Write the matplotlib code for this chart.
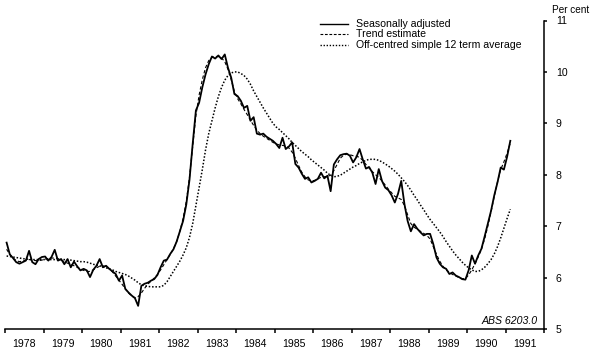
import numpy as np
import matplotlib
matplotlib.use("Agg")
import matplotlib.pyplot as plt
from matplotlib.lines import Line2D

plt.rcParams['font.family'] = ['Liberation Sans', 'DejaVu Sans']

# monthly series, Jan 1978 .. Feb 1991 (per cent)
start_year = 1978
seasonally_adjusted = (
    [6.68, 6.45, 6.38, 6.30, 6.27, 6.30, 6.33, 6.52, 6.30, 6.26, 6.36, 6.40]    # 1978
    + [6.41, 6.33, 6.40, 6.54, 6.33, 6.36, 6.26, 6.36, 6.20, 6.31, 6.22, 6.14]  # 1979
    + [6.17, 6.14, 6.01, 6.15, 6.23, 6.36, 6.20, 6.23, 6.17, 6.12, 6.07, 5.94]  # 1980
    + [6.04, 5.78, 5.71, 5.65, 5.60, 5.45, 5.84, 5.88, 5.90, 5.94, 5.97, 6.05]  # 1981
    + [6.20, 6.33, 6.35, 6.46, 6.55, 6.70, 6.90, 7.10, 7.42, 7.90, 8.60, 9.25]  # 1982
    + [9.40, 9.70, 9.95, 10.15, 10.30, 10.26, 10.32, 10.25, 10.34, 10.08, 9.89, 9.57]  # 1983
    + [9.53, 9.44, 9.30, 9.34, 9.05, 9.12, 8.80, 8.78, 8.80, 8.74, 8.70, 8.66]  # 1984
    + [8.60, 8.52, 8.72, 8.50, 8.55, 8.63, 8.21, 8.14, 8.02, 7.92, 7.95, 7.85]  # 1985
    + [7.88, 7.92, 8.04, 7.93, 7.98, 7.68, 8.20, 8.30, 8.38, 8.40, 8.41, 8.37]  # 1986
    + [8.24, 8.34, 8.50, 8.30, 8.12, 8.15, 8.04, 7.82, 8.11, 7.88, 7.75, 7.70]  # 1987
    + [7.60, 7.46, 7.63, 7.88, 7.43, 7.10, 6.90, 7.04, 6.95, 6.88, 6.82, 6.85]  # 1988
    + [6.85, 6.65, 6.39, 6.27, 6.20, 6.17, 6.07, 6.10, 6.04, 6.01, 5.97, 5.96]  # 1989
    + [6.14, 6.43, 6.27, 6.43, 6.56, 6.80, 7.05, 7.30, 7.60, 7.85, 8.14, 8.10]  # 1990
    + [8.35, 8.66]                                                              # 1991
)
trend_estimate = (
    [6.55, 6.45, 6.38, 6.33, 6.31, 6.32, 6.34, 6.35, 6.34, 6.33, 6.33, 6.34]
    + [6.36, 6.37, 6.38, 6.38, 6.37, 6.34, 6.31, 6.28, 6.26, 6.23, 6.20, 6.17]
    + [6.14, 6.12, 6.12, 6.15, 6.19, 6.22, 6.23, 6.21, 6.17, 6.11, 6.03, 5.95]
    + [5.87, 5.78, 5.70, 5.64, 5.61, 5.63, 5.70, 5.79, 5.87, 5.93, 5.99, 6.06]
    + [6.15, 6.25, 6.35, 6.45, 6.56, 6.70, 6.90, 7.15, 7.48, 7.95, 8.55, 9.15]
    + [9.55, 9.85, 10.08, 10.22, 10.28, 10.30, 10.30, 10.27, 10.20, 10.05, 9.85, 9.62]
    + [9.48, 9.38, 9.27, 9.17, 9.06, 8.96, 8.87, 8.80, 8.75, 8.71, 8.67, 8.63]
    + [8.60, 8.58, 8.57, 8.56, 8.52, 8.44, 8.32, 8.18, 8.05, 7.96, 7.90, 7.88]
    + [7.89, 7.92, 7.95, 7.96, 7.97, 7.99, 8.08, 8.20, 8.32, 8.38, 8.40, 8.39]
    + [8.37, 8.36, 8.34, 8.28, 8.20, 8.13, 8.06, 8.00, 7.95, 7.88, 7.80, 7.72]
    + [7.65, 7.58, 7.55, 7.52, 7.40, 7.22, 7.05, 6.98, 6.94, 6.90, 6.86, 6.82]
    + [6.75, 6.60, 6.45, 6.32, 6.22, 6.15, 6.10, 6.06, 6.03, 6.00, 5.98, 5.98]
    + [6.05, 6.15, 6.27, 6.40, 6.55, 6.75, 7.00, 7.28, 7.58, 7.86, 8.10, 8.25]
    + [8.42, 8.62]
)
off_centred_avg = (
    [6.42, 6.41, 6.40, 6.39, 6.38, 6.37, 6.36, 6.36, 6.35, 6.35, 6.35, 6.35]
    + [6.35, 6.35, 6.35, 6.35, 6.35, 6.35, 6.35, 6.34, 6.34, 6.33, 6.32, 6.31]
    + [6.31, 6.30, 6.28, 6.26, 6.24, 6.23, 6.21, 6.19, 6.17, 6.15, 6.12, 6.10]
    + [6.08, 6.06, 6.03, 5.99, 5.95, 5.90, 5.86, 5.84, 5.83, 5.82, 5.82, 5.82]
    + [5.82, 5.85, 5.92, 6.02, 6.12, 6.22, 6.32, 6.44, 6.58, 6.78, 7.05, 7.40]
    + [7.75, 8.10, 8.48, 8.80, 9.05, 9.30, 9.52, 9.70, 9.84, 9.93, 9.98, 10.00]
    + [10.00, 9.97, 9.93, 9.86, 9.76, 9.63, 9.52, 9.41, 9.30, 9.20, 9.10, 9.00]
    + [8.93, 8.88, 8.82, 8.76, 8.70, 8.63, 8.57, 8.51, 8.45, 8.40, 8.35, 8.29]
    + [8.24, 8.19, 8.14, 8.09, 8.03, 7.99, 7.96, 7.97, 7.99, 8.03, 8.07, 8.11]
    + [8.15, 8.18, 8.22, 8.25, 8.28, 8.30, 8.30, 8.30, 8.28, 8.25, 8.21, 8.17]
    + [8.12, 8.07, 8.01, 7.94, 7.87, 7.79, 7.70, 7.60, 7.51, 7.41, 7.32, 7.22]
    + [7.13, 7.05, 6.97, 6.89, 6.80, 6.70, 6.61, 6.52, 6.44, 6.37, 6.30, 6.24]
    + [6.19, 6.15, 6.12, 6.12, 6.15, 6.20, 6.27, 6.35, 6.46, 6.60, 6.77, 6.96]
    + [7.15, 7.33]
)
years = list(range(1978, 1992))
y_ticks = [5, 6, 7, 8, 9, 10, 11]

W, H = 597, 351
fig = plt.figure(figsize=(W / 100, H / 100), dpi=100)
ax = fig.add_axes([5 / W, 1 - 329 / H, 539 / W, (329 - 20.5) / H])

t = start_year + (np.arange(len(seasonally_adjusted)) + 0.5) / 12
ax.plot(t, off_centred_avg, color="black", lw=1.1, ls=(0, (1.0, 1.2)))
ax.plot(t, trend_estimate, color="black", lw=0.8, ls=(0, (3, 2)))
ax.plot(t, seasonally_adjusted, color="black", lw=1.3)

ax.set_xlim(1978, 1992)
ax.set_ylim(5, 11)

for s in ("left", "top"):
    ax.spines[s].set_visible(False)
for s in ("bottom", "right"):
    ax.spines[s].set_linewidth(1.1)

ax.set_xticks(years + [1992])
ax.set_xticks([y + 0.5 for y in years], minor=True)
ax.set_xticklabels([])
ax.set_xticklabels([str(y) for y in years], minor=True, fontsize=7.6)
ax.tick_params(axis="x", which="major", direction="out", length=3, width=1.1)
ax.tick_params(axis="x", which="minor", length=0, pad=7.5)

ax.yaxis.tick_right()
ax.set_yticks(y_ticks)
ax.set_yticklabels([str(v) for v in y_ticks], fontsize=7.6)
ax.tick_params(axis="y", direction="out", length=2.5, width=1.1, pad=6)

fig.text(552 / W, 1 - 10 / H, "Per cent", fontsize=7.2, va="center", ha="left")
fig.text(538 / W, 1 - 321 / H, "ABS 6203.0", fontsize=7.6, style="italic",
         ha="right", va="center")

# legend
legend_rows = [("Seasonally adjusted", "-", 1.0, 24),
               ("Trend estimate", (0, (2.5, 1.5)), 0.8, 34.3),
               ("Off-centred simple 12 term average", (0, (1.0, 1.2)), 1.0, 45)]
for label, style, lw, yy in legend_rows:
    fig.add_artist(Line2D([320 / W, 348 / W], [1 - yy / H, 1 - yy / H],
                          color="black", lw=lw, ls=style))
    fig.text(356 / W, 1 - yy / H, label, fontsize=7.6, va="center", ha="left")

fig.savefig("out.png", dpi=100)
